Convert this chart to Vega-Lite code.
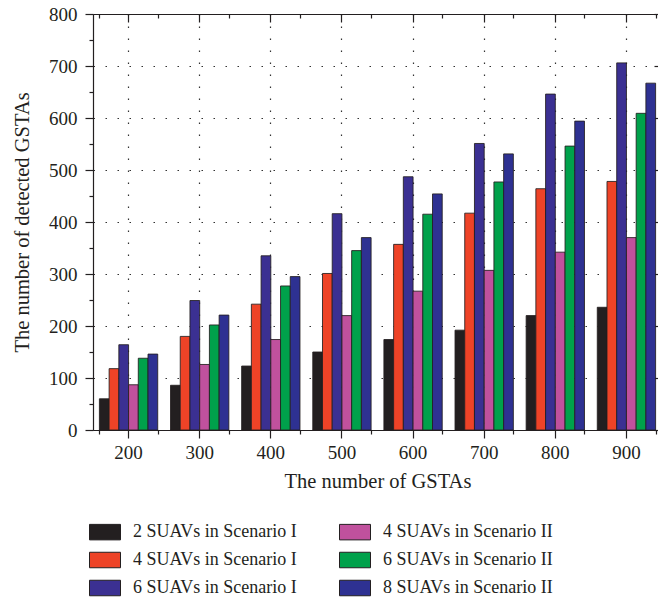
{
  "$schema": "https://vega.github.io/schema/vega-lite/v6.json",
  "autosize": {"type": "none"},
  "padding": {"left": 93, "top": 14, "right": 0, "bottom": 171},
  "width": 569,
  "height": 416,
  "background": "white",
  "config": {
    "view": {"stroke": null},
    "font": "Liberation Serif",
    "axis": {
      "labelFont": "Liberation Serif",
      "titleFont": "Liberation Serif",
      "labelFontSize": 19,
      "titleFontSize": 20.5,
      "titleFontWeight": "normal",
      "labelColor": "#231f20",
      "titleColor": "#231f20",
      "domainColor": "#231f20",
      "tickColor": "#231f20",
      "domainWidth": 1.2,
      "tickWidth": 1.2,
      "gridColor": "#333333",
      "gridDash": [1.5, 10.5],
      "gridWidth": 1.2
    },
    "legend": {
      "labelFont": "Liberation Serif",
      "labelFontSize": 18,
      "labelColor": "#231f20"
    }
  },
  "data": {
    "values": [
      {"gstas": 200, "series": "2 SUAVs in Scenario I", "rank": 1, "value": 60},
      {"gstas": 200, "series": "4 SUAVs in Scenario I", "rank": 2, "value": 118},
      {"gstas": 200, "series": "6 SUAVs in Scenario I", "rank": 3, "value": 164},
      {"gstas": 200, "series": "4 SUAVs in Scenario II", "rank": 4, "value": 87},
      {"gstas": 200, "series": "6 SUAVs in Scenario II", "rank": 5, "value": 138},
      {"gstas": 200, "series": "8 SUAVs in Scenario II", "rank": 6, "value": 146},
      {"gstas": 300, "series": "2 SUAVs in Scenario I", "rank": 1, "value": 86},
      {"gstas": 300, "series": "4 SUAVs in Scenario I", "rank": 2, "value": 180},
      {"gstas": 300, "series": "6 SUAVs in Scenario I", "rank": 3, "value": 249},
      {"gstas": 300, "series": "4 SUAVs in Scenario II", "rank": 4, "value": 126},
      {"gstas": 300, "series": "6 SUAVs in Scenario II", "rank": 5, "value": 202},
      {"gstas": 300, "series": "8 SUAVs in Scenario II", "rank": 6, "value": 221},
      {"gstas": 400, "series": "2 SUAVs in Scenario I", "rank": 1, "value": 123},
      {"gstas": 400, "series": "4 SUAVs in Scenario I", "rank": 2, "value": 242},
      {"gstas": 400, "series": "6 SUAVs in Scenario I", "rank": 3, "value": 335},
      {"gstas": 400, "series": "4 SUAVs in Scenario II", "rank": 4, "value": 174},
      {"gstas": 400, "series": "6 SUAVs in Scenario II", "rank": 5, "value": 277},
      {"gstas": 400, "series": "8 SUAVs in Scenario II", "rank": 6, "value": 295},
      {"gstas": 500, "series": "2 SUAVs in Scenario I", "rank": 1, "value": 150},
      {"gstas": 500, "series": "4 SUAVs in Scenario I", "rank": 2, "value": 301},
      {"gstas": 500, "series": "6 SUAVs in Scenario I", "rank": 3, "value": 416},
      {"gstas": 500, "series": "4 SUAVs in Scenario II", "rank": 4, "value": 220},
      {"gstas": 500, "series": "6 SUAVs in Scenario II", "rank": 5, "value": 345},
      {"gstas": 500, "series": "8 SUAVs in Scenario II", "rank": 6, "value": 370},
      {"gstas": 600, "series": "2 SUAVs in Scenario I", "rank": 1, "value": 174},
      {"gstas": 600, "series": "4 SUAVs in Scenario I", "rank": 2, "value": 357},
      {"gstas": 600, "series": "6 SUAVs in Scenario I", "rank": 3, "value": 487},
      {"gstas": 600, "series": "4 SUAVs in Scenario II", "rank": 4, "value": 267},
      {"gstas": 600, "series": "6 SUAVs in Scenario II", "rank": 5, "value": 415},
      {"gstas": 600, "series": "8 SUAVs in Scenario II", "rank": 6, "value": 454},
      {"gstas": 700, "series": "2 SUAVs in Scenario I", "rank": 1, "value": 192},
      {"gstas": 700, "series": "4 SUAVs in Scenario I", "rank": 2, "value": 417},
      {"gstas": 700, "series": "6 SUAVs in Scenario I", "rank": 3, "value": 551},
      {"gstas": 700, "series": "4 SUAVs in Scenario II", "rank": 4, "value": 307},
      {"gstas": 700, "series": "6 SUAVs in Scenario II", "rank": 5, "value": 477},
      {"gstas": 700, "series": "8 SUAVs in Scenario II", "rank": 6, "value": 531},
      {"gstas": 800, "series": "2 SUAVs in Scenario I", "rank": 1, "value": 220},
      {"gstas": 800, "series": "4 SUAVs in Scenario I", "rank": 2, "value": 464},
      {"gstas": 800, "series": "6 SUAVs in Scenario I", "rank": 3, "value": 646},
      {"gstas": 800, "series": "4 SUAVs in Scenario II", "rank": 4, "value": 342},
      {"gstas": 800, "series": "6 SUAVs in Scenario II", "rank": 5, "value": 546},
      {"gstas": 800, "series": "8 SUAVs in Scenario II", "rank": 6, "value": 594},
      {"gstas": 900, "series": "2 SUAVs in Scenario I", "rank": 1, "value": 236},
      {"gstas": 900, "series": "4 SUAVs in Scenario I", "rank": 2, "value": 478},
      {"gstas": 900, "series": "6 SUAVs in Scenario I", "rank": 3, "value": 706},
      {"gstas": 900, "series": "4 SUAVs in Scenario II", "rank": 4, "value": 370},
      {"gstas": 900, "series": "6 SUAVs in Scenario II", "rank": 5, "value": 609},
      {"gstas": 900, "series": "8 SUAVs in Scenario II", "rank": 6, "value": 667}
    ]
  },
  "resolve": {"axis": {"x": "independent", "y": "independent"}},
  "layer": [
    {
      "mark": {"type": "bar", "stroke": "#231f20", "strokeWidth": 1, "strokeOpacity": 0.85},
      "encoding": {
        "x": {
          "field": "gstas",
          "type": "ordinal",
          "scale": {"paddingInner": 0.18, "paddingOuter": 0.09},
          "axis": {
            "orient": "bottom",
            "title": "The number of GSTAs",
            "labelAngle": 0,
            "tickSize": 8,
            "labelPadding": 5,
            "titlePadding": 9,
            "grid": true,
            "bandPosition": 0.5
          }
        },
        "xOffset": {"field": "series", "type": "nominal", "sort": {"field": "rank"}},
        "y": {
          "field": "value",
          "type": "quantitative",
          "scale": {"domain": [0, 800], "nice": false},
          "axis": {
            "orient": "left",
            "title": "The number of detected GSTAs",
            "values": [0, 100, 200, 300, 400, 500, 600, 700, 800],
            "tickSize": 8,
            "labelPadding": 8,
            "titlePadding": 16,
            "grid": true
          }
        },
        "color": {
          "field": "series",
          "type": "nominal",
          "scale": {
            "domain": [
              "2 SUAVs in Scenario I",
              "4 SUAVs in Scenario I",
              "6 SUAVs in Scenario I",
              "4 SUAVs in Scenario II",
              "6 SUAVs in Scenario II",
              "8 SUAVs in Scenario II"
            ],
            "range": ["#231f20", "#ee4327", "#3b3092", "#c0519d", "#00a14b", "#2e3192"]
          },
          "legend": {
            "title": null,
            "orient": "none",
            "legendX": -4,
            "legendY": 502,
            "columns": 2,
            "columnPadding": 40,
            "rowPadding": 2,
            "labelLimit": 400,
            "symbolType": "M-1,-0.5H1V0.5H-1Z",
            "symbolSize": 961,
            "symbolStrokeColor": "#231f20",
            "symbolStrokeWidth": 1,
            "symbolOpacity": 1,
            "labelOffset": 12
          }
        }
      }
    },
    {
      "mark": {"type": "point", "opacity": 0},
      "encoding": {
        "x": {
          "field": "gstas",
          "type": "ordinal",
          "axis": {"orient": "top", "title": null, "labels": false, "tickSize": -8, "grid": false, "bandPosition": 0.5}
        },
        "y": {
          "field": "value",
          "type": "quantitative",
          "axis": {"orient": "right", "title": null, "labels": false, "tickSize": -8, "grid": false,
                   "values": [0, 100, 200, 300, 400, 500, 600, 700, 800]}
        }
      }
    },
    {
      "mark": {"type": "point", "opacity": 0},
      "encoding": {
        "x": {
          "field": "gstas",
          "type": "ordinal",
          "axis": {"orient": "bottom", "title": null, "labels": false, "domain": false, "tickSize": 4, "grid": false, "tickBand": "extent"}
        },
        "y": {
          "field": "value",
          "type": "quantitative",
          "axis": {"orient": "left", "title": null, "labels": false, "domain": false, "tickSize": 4, "grid": false,
                   "values": [50, 150, 250, 350, 450, 550, 650, 750]}
        }
      }
    },
    {
      "mark": {"type": "point", "opacity": 0},
      "encoding": {
        "x": {
          "field": "gstas",
          "type": "ordinal",
          "axis": {"orient": "top", "title": null, "labels": false, "domain": false, "tickSize": -4, "grid": false, "tickBand": "extent"}
        },
        "y": {
          "field": "value",
          "type": "quantitative",
          "axis": {"orient": "right", "title": null, "labels": false, "domain": false, "tickSize": -4, "grid": false,
                   "values": [50, 150, 250, 350, 450, 550, 650, 750]}
        }
      }
    }
  ]
}
